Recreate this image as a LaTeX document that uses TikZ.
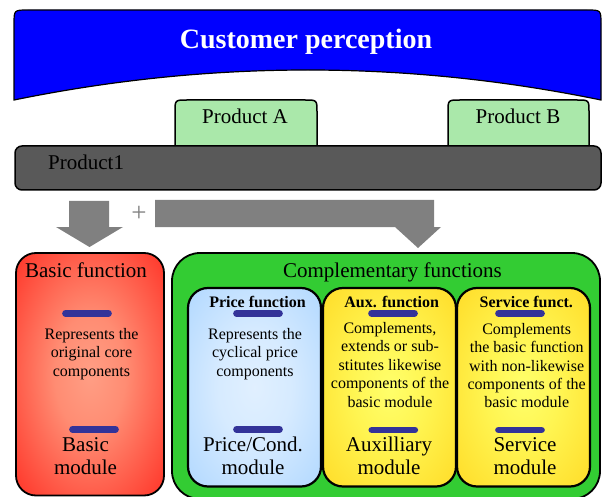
\documentclass[tikz,border=0pt]{standalone}
\usepackage{fontspec}
\setmainfont{Liberation Serif}
% soft radial glows, stretched to each box
\pgfdeclareradialshading{redglow}{\pgfpointorigin}{rgb(0bp)=(1,0.62,0.52); rgb(12bp)=(1,0.55,0.45); rgb(44bp)=(1,0.08,0.05); rgb(52bp)=(1,0,0); rgb(72bp)=(1,0,0)}
\pgfdeclareradialshading{blueglow}{\pgfpointorigin}{rgb(0bp)=(0.88,0.94,1); rgb(14bp)=(0.84,0.92,1); rgb(50bp)=(0.6,0.8,1); rgb(72bp)=(0.58,0.78,1)}
\pgfdeclareradialshading{goldglow}{\pgfpointorigin}{rgb(0bp)=(1,1,0.42); rgb(14bp)=(1,0.96,0.32); rgb(50bp)=(1,0.8,0.05); rgb(72bp)=(1,0.78,0)}
\definecolor{bannerblue}{HTML}{0000FF}
\definecolor{prodgreen}{HTML}{AAE8AA}
\definecolor{bargray}{HTML}{595959}
\definecolor{arrowgray}{HTML}{808080}
\definecolor{boxgreen}{HTML}{33CC33}
\definecolor{dashblue}{HTML}{333399}
\begin{document}
\begin{tikzpicture}[x=1pt,y=-1pt,
  txt/.style={inner sep=0pt,anchor=base,font=\fontsize{21}{24}\selectfont},
  body/.style={inner sep=0pt,anchor=base,font=\fontsize{16}{18.4}\selectfont,align=center},
  head/.style={inner sep=0pt,anchor=base,font=\fontsize{16}{18}\selectfont\bfseries},
  modlbl/.style={inner sep=0pt,anchor=base,font=\fontsize{21}{23.4}\selectfont,align=center},
  bigbox/.style={draw=black,line width=1.8pt,rounded corners=#1,inner sep=0pt,outer sep=0pt},
  funcbox/.style={draw=black,line width=2.2pt,rounded corners=20pt,inner sep=0pt,outer sep=0pt,
    minimum width=133pt,minimum height=198.5pt},
  dashbar/.style={draw=dashblue,line width=6.7pt,line cap=round},
  blockarrow/.style={fill=arrowgray,draw=none}]
\useasboundingbox (0,0) rectangle (602,497);
\clip (0,0) rectangle (602,497);

% banner with curved lower edge
\filldraw[fill=bannerblue,draw=black,line width=1.2pt]
  (14,100) -- (14,24) .. controls (14,10) .. (28,10) -- (587,10)
  .. controls (601,10) .. (601,24) -- (601,100)
  .. controls (406,60) and (210,60) .. (14,100) -- cycle;
\node[inner sep=0pt,anchor=base,text=white,font=\fontsize{28}{30}\selectfont\bfseries]
  (title) at (306,48.5) {Customer perception};

% product tabs
\filldraw[fill=prodgreen,draw=black,line width=1.5pt]
  (175,150) -- (175,112) .. controls (175,100) .. (187,100) -- (305,100)
  .. controls (317,100) .. (317,112) -- (317,150);
\filldraw[fill=prodgreen,draw=black,line width=1.5pt]
  (448,150) -- (448,112) .. controls (448,100) .. (460,100) -- (577,100)
  .. controls (589,100) .. (589,112) -- (589,150);
\node[txt] (pa) at (245,123.3) {Product A};
\node[txt] (pb) at (518,123.3) {Product B};

% common product bar
\node[draw=black,fill=bargray,line width=1.5pt,rounded corners=7pt,inner sep=0pt,
  minimum width=586pt,minimum height=44pt] (bar) at (308,168) {};
\node[txt,anchor=base west] (p1) at (48,170) {Product1};

% block arrows towards the function boxes
\path[blockarrow] (69,201) -- (109,201) -- (109,227) -- (123,227) -- (89.5,247)
  -- (56,227) -- (69,227) -- cycle;
\path[blockarrow] (155,200) -- (434,200) -- (434,227) -- (441,227) -- (418,248)
  -- (395,227) -- (155,227) -- cycle;
\node[inner sep=0pt,text=arrowgray,font=\fontsize{27}{28}\selectfont] (plus) at (139,214) {+};

% basic function (multi-line texts are placed by the baseline of their last line)
\node[bigbox=20pt,minimum width=148pt,minimum height=242.5pt,shading=redglow]
  (basic) at (90,374.25) {};
\node[txt] (basict) at (86,277.7) {Basic function};
\draw[dashbar] (65.5,313.3) -- (108.5,313.3);
\node[body] (basicd) at (91.5,376.1) {Represents the\\original core\\components};
\draw[dashbar] (72.5,429.3) -- (115.5,429.3);
\node[modlbl] (basicm) at (85.5,474.4) {Basic\\module};

% complementary functions
\node[bigbox=28pt,fill=boxgreen,minimum width=428pt,minimum height=246pt]
  (compl) at (386,376) {};
\node[txt] (complt) at (392.5,277.5) {Complementary functions};

\node[funcbox,shading=blueglow] (price) at (254.5,387.25) {};
\node[funcbox,shading=goldglow] (aux) at (389.5,387.25) {};
\node[funcbox,shading=goldglow] (serv) at (523.5,387.25) {};

\node[head] (pricet) at (257.5,307.5) {Price function};
\draw[dashbar] (236.5,313.3) -- (279.5,313.3);
\node[body] (priced) at (255,376.1) {Represents the\\cyclical price\\components};
\draw[dashbar] (236.5,429.3) -- (279.5,429.3);
\node[modlbl] (pricem) at (253,474.4) {Price/Cond.\\module};

\node[head] (auxt) at (391.7,307.5) {Aux. function};
\draw[dashbar] (371.5,313.3) -- (414.5,313.3);
\node[body] (auxd) at (390,407.1) {Complements,\\extends or sub-\\stitutes likewise\\components of the\\basic module};
\draw[dashbar] (371.8,430) -- (414.8,430);
\node[modlbl] (auxm) at (389,474.9) {Auxilliary\\module};

\node[head] (servt) at (526.3,307.5) {Service funct.};
\draw[dashbar] (498.5,313.3) -- (541.5,313.3);
\node[body] (servd) at (526.7,407.9) {Complements\\the basic function\\with non-likewise\\components of the\\basic module};
\draw[dashbar] (498.5,430) -- (541.5,430);
\node[modlbl] (servm) at (525,474.9) {Service\\module};
\end{tikzpicture}
\end{document}
